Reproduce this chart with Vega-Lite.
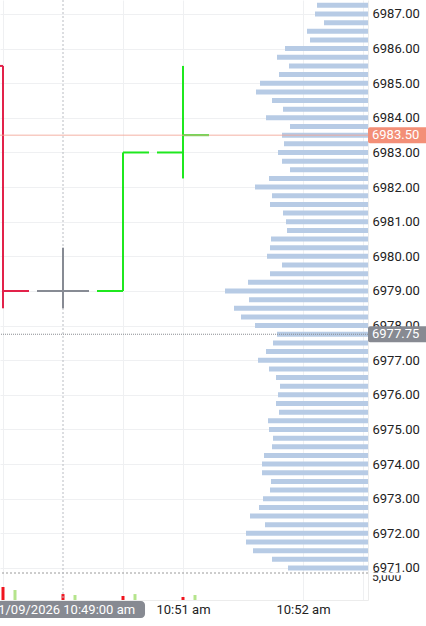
{
  "$schema": "https://vega.github.io/schema/vega-lite/v6.json",
  "width": 368,
  "height": 600,
  "padding": {"left": 0, "top": 0, "right": 58, "bottom": 26},
  "autosize": {"type": "none"},
  "background": "white",
  "config": {
    "view": {"stroke": null},
    "font": "Roboto",
    "text": {"font": "Roboto"},
    "axis": {"labelFont": "Roboto", "labelFontSize": 13, "labelColor": "#222222", "gridColor": "#eff0f2", "gridWidth": 1, "ticks": false, "domainColor": "#ececec", "title": null, "labelOverlap": false, "labelFlush": false}
  },
  "datasets": {
    "bars": [
      {"i": 0, "open": 6985.5, "high": 6985.5, "low": 6978.5, "close": 6979.0, "dir": "down", "sellVol": 2400, "buyVol": 1850},
      {"i": 1, "open": 6979.0, "high": 6980.25, "low": 6978.5, "close": 6979.0, "dir": "flat", "sellVol": 1100, "buyVol": 930},
      {"i": 2, "open": 6979.0, "high": 6983.0, "low": 6979.0, "close": 6983.0, "dir": "up", "sellVol": 740, "buyVol": 1100},
      {"i": 3, "open": 6983.0, "high": 6985.5, "low": 6982.25, "close": 6983.5, "dir": "up", "sellVol": 560, "buyVol": 930}
    ],
    "last": [{"price": 6983.5, "label": "6983.50"}],
    "crosshair": [{"i": 1, "price": 6977.75, "label": "6977.75", "stamp": "01/09/2026 10:49:00 am"}],
    "volLevel": [{"vol": 5000, "label": "5,000"}],
    "profile": [
      {"price": 6987.25, "vol": 51}, {"price": 6987.0, "vol": 53}, {"price": 6986.75, "vol": 44}, {"price": 6986.5, "vol": 61},
      {"price": 6986.25, "vol": 58}, {"price": 6986.0, "vol": 83}, {"price": 6985.75, "vol": 91}, {"price": 6985.5, "vol": 79},
      {"price": 6985.25, "vol": 89}, {"price": 6985.0, "vol": 108}, {"price": 6984.75, "vol": 112}, {"price": 6984.5, "vol": 96},
      {"price": 6984.25, "vol": 85}, {"price": 6984.0, "vol": 102}, {"price": 6983.75, "vol": 78}, {"price": 6983.5, "vol": 86},
      {"price": 6983.25, "vol": 84}, {"price": 6983.0, "vol": 90}, {"price": 6982.75, "vol": 86}, {"price": 6982.5, "vol": 78},
      {"price": 6982.25, "vol": 99}, {"price": 6982.0, "vol": 113}, {"price": 6981.75, "vol": 96}, {"price": 6981.5, "vol": 98},
      {"price": 6981.25, "vol": 85}, {"price": 6981.0, "vol": 82}, {"price": 6980.75, "vol": 81}, {"price": 6980.5, "vol": 97},
      {"price": 6980.25, "vol": 98}, {"price": 6980.0, "vol": 101}, {"price": 6979.75, "vol": 86}, {"price": 6979.5, "vol": 98},
      {"price": 6979.25, "vol": 120}, {"price": 6979.0, "vol": 143}, {"price": 6978.75, "vol": 119}, {"price": 6978.5, "vol": 134},
      {"price": 6978.25, "vol": 127}, {"price": 6978.0, "vol": 113}, {"price": 6977.75, "vol": 91}, {"price": 6977.5, "vol": 95},
      {"price": 6977.25, "vol": 102}, {"price": 6977.0, "vol": 110}, {"price": 6976.75, "vol": 99}, {"price": 6976.5, "vol": 92},
      {"price": 6976.25, "vol": 88}, {"price": 6976.0, "vol": 90}, {"price": 6975.75, "vol": 92}, {"price": 6975.5, "vol": 89},
      {"price": 6975.25, "vol": 100}, {"price": 6975.0, "vol": 99}, {"price": 6974.75, "vol": 95}, {"price": 6974.5, "vol": 96},
      {"price": 6974.25, "vol": 104}, {"price": 6974.0, "vol": 106}, {"price": 6973.75, "vol": 106}, {"price": 6973.5, "vol": 97},
      {"price": 6973.25, "vol": 98}, {"price": 6973.0, "vol": 105}, {"price": 6972.75, "vol": 109}, {"price": 6972.5, "vol": 118},
      {"price": 6972.25, "vol": 103}, {"price": 6972.0, "vol": 122}, {"price": 6971.75, "vol": 122}, {"price": 6971.5, "vol": 115},
      {"price": 6971.25, "vol": 96}, {"price": 6971.0, "vol": 80}
    ]
  },
  "layer": [
    {
      "data": {"name": "profile"},
      "mark": {"type": "bar", "orient": "horizontal", "size": 5, "color": "#b7cbe5", "opacity": 1},
      "encoding": {
        "x": {"field": "vol", "type": "quantitative", "scale": {"domain": [0, 368], "reverse": true, "nice": false, "zero": false, "padding": 0}, "axis": null},
        "y": {"field": "price", "type": "quantitative", "scale": {"domain": [6970.075, 6987.404], "nice": false, "zero": false, "padding": 0},
          "axis": {"orient": "right", "values": [6971, 6972, 6973, 6974, 6975, 6976, 6977, 6978, 6979, 6980, 6981, 6982, 6983, 6984, 6985, 6986, 6987], "tickCount": 17, "format": ".2f", "grid": true, "domain": true, "labelPadding": 4, "labelOverlap": false, "labelFlush": false, "labelBound": false}}
      }
    },
    {
      "layer": [
        {
          "data": {"name": "volLevel"},
          "mark": {"type": "rule", "color": "#9a9a9a", "strokeDash": [2, 2], "strokeWidth": 1},
          "encoding": {"y": {"field": "vol", "type": "quantitative", "axis": null}}
        },
        {
          "data": {"name": "bars"},
          "mark": {"type": "bar", "orient": "vertical", "size": 3, "color": "#f0141e", "opacity": 1},
          "encoding": {
            "x": {"field": "i", "type": "quantitative", "axis": null},
            "y": {"field": "sellVol", "type": "quantitative", "axis": null}
          }
        },
        {
          "data": {"name": "bars"},
          "mark": {"type": "bar", "orient": "vertical", "size": 3, "color": "#b5e48c", "opacity": 1, "xOffset": 12},
          "encoding": {
            "x": {"field": "i", "type": "quantitative", "axis": null},
            "y": {"field": "buyVol", "type": "quantitative", "axis": null}
          }
        },
        {
          "data": {"name": "volLevel"},
          "mark": {"type": "text", "align": "left", "baseline": "middle", "dy": 4, "fontSize": 12, "color": "#222222", "clip": false},
          "encoding": {
            "x": {"datum": 6.15, "type": "quantitative", "axis": null},
            "y": {"field": "vol", "type": "quantitative", "axis": null},
            "text": {"field": "label"}
          }
        }
      ],
      "encoding": {
        "x": {"type": "quantitative", "scale": {"domain": [-0.05, 6.0833], "nice": false, "zero": false, "padding": 0}, "axis": null},
        "y": {"type": "quantitative", "scale": {"domain": [0, 111111], "nice": false, "zero": true, "padding": 0}, "axis": null}
      }
    },
    {
      "layer": [
        {
          "data": {"name": "crosshair"},
          "mark": {"type": "rule", "color": "#b9bcc2", "strokeDash": [2, 2], "strokeWidth": 1},
          "encoding": {"x": {"field": "i", "type": "quantitative",
              "axis": {"orient": "bottom", "values": [0, 2, 3, 5, 6], "grid": true, "domain": true, "labelPadding": 3, "labelOverlap": false, "labelFlush": false,
                "labelExpr": "datum.value == 3 ? '10:51 am' : datum.value == 5 ? '10:52 am' : ''"}}}
        },
        {
          "data": {"name": "crosshair"},
          "mark": {"type": "rule", "color": "#8a8d93", "strokeDash": [1, 1], "strokeWidth": 1},
          "encoding": {"y": {"field": "price", "type": "quantitative", "axis": null}}
        },
        {
          "data": {"name": "bars"},
          "mark": {"type": "rule", "strokeWidth": 2, "clip": true},
          "encoding": {
            "x": {"field": "i", "type": "quantitative"},
            "y": {"field": "low", "type": "quantitative", "axis": null},
            "y2": {"field": "high"},
            "color": {"field": "dir", "type": "nominal", "scale": {"domain": ["down", "flat", "up"], "range": ["#e2224a", "#878b94", "#1fe81f"]}, "legend": null}
          }
        },
        {
          "data": {"name": "bars"},
          "mark": {"type": "tick", "orient": "horizontal", "size": 26, "thickness": 2, "xOffset": -13, "opacity": 1, "clip": true},
          "encoding": {
            "x": {"field": "i", "type": "quantitative"},
            "y": {"field": "open", "type": "quantitative", "axis": null},
            "color": {"field": "dir", "type": "nominal", "legend": null}
          }
        },
        {
          "data": {"name": "bars"},
          "mark": {"type": "tick", "orient": "horizontal", "size": 26, "thickness": 2, "xOffset": 13, "opacity": 1, "clip": true},
          "encoding": {
            "x": {"field": "i", "type": "quantitative"},
            "y": {"field": "close", "type": "quantitative", "axis": null},
            "color": {"field": "dir", "type": "nominal", "legend": null}
          }
        },
        {
          "data": {"name": "last"},
          "mark": {"type": "rule", "color": "#f2a594", "strokeWidth": 1, "opacity": 0.85},
          "encoding": {"y": {"field": "price", "type": "quantitative", "axis": null}}
        },
        {
          "data": {"name": "last"},
          "mark": {"type": "bar", "orient": "horizontal", "size": 2.8, "color": "white", "clip": false, "opacity": 1},
          "encoding": {
            "x": {"datum": 6.1, "type": "quantitative"},
            "x2": {"datum": 7.2},
            "y": {"datum": 6970.83, "type": "quantitative", "axis": null}
          }
        },
        {
          "data": {"name": "last"},
          "mark": {"type": "bar", "orient": "horizontal", "size": 16, "cornerRadius": 2, "clip": false, "opacity": 1, "color": "#f38f77"},
          "encoding": {
            "x": {"datum": 6.0833, "type": "quantitative"},
            "x2": {"datum": 7.2},
            "y": {"field": "price", "type": "quantitative", "axis": null}
          }
        },
        {
          "data": {"name": "crosshair"},
          "mark": {"type": "bar", "orient": "horizontal", "size": 16, "cornerRadius": 2, "clip": false, "opacity": 1, "color": "#878a92"},
          "encoding": {
            "x": {"datum": 6.0833, "type": "quantitative"},
            "x2": {"datum": 7.2},
            "y": {"field": "price", "type": "quantitative", "axis": null}
          }
        },
        {
          "data": {"name": "last"},
          "mark": {"type": "text", "align": "left", "baseline": "middle", "fontSize": 13, "color": "white", "clip": false},
          "encoding": {
            "x": {"datum": 6.15, "type": "quantitative"},
            "y": {"field": "price", "type": "quantitative", "axis": null},
            "text": {"field": "label"}
          }
        },
        {
          "data": {"name": "crosshair"},
          "mark": {"type": "text", "align": "left", "baseline": "middle", "fontSize": 13, "color": "white", "clip": false},
          "encoding": {
            "x": {"datum": 6.15, "type": "quantitative"},
            "y": {"field": "price", "type": "quantitative", "axis": null},
            "text": {"field": "label"}
          }
        },
        {
          "data": {"name": "crosshair"},
          "mark": {"type": "bar", "orient": "horizontal", "size": 17, "cornerRadius": 4, "color": "#878a92", "clip": false, "opacity": 1},
          "encoding": {
            "x": {"datum": -0.367, "type": "quantitative"},
            "x2": {"datum": 2.367},
            "y": {"datum": 6969.8, "type": "quantitative", "axis": null}
          }
        },
        {
          "data": {"name": "crosshair"},
          "mark": {"type": "text", "align": "center", "baseline": "middle", "fontSize": 13, "color": "white", "clip": false},
          "encoding": {
            "x": {"field": "i", "type": "quantitative"},
            "y": {"datum": 6969.8, "type": "quantitative", "axis": null},
            "text": {"field": "stamp"}
          }
        }
      ],
      "encoding": {
        "x": {"type": "quantitative", "scale": {"domain": [-0.05, 6.0833], "nice": false, "zero": false, "padding": 0}},
        "y": {"type": "quantitative", "scale": {"domain": [6970.075, 6987.404], "nice": false, "zero": false, "padding": 0}}
      }
    }
  ],
  "resolve": {"scale": {"x": "independent", "y": "independent", "color": "independent"}}
}
